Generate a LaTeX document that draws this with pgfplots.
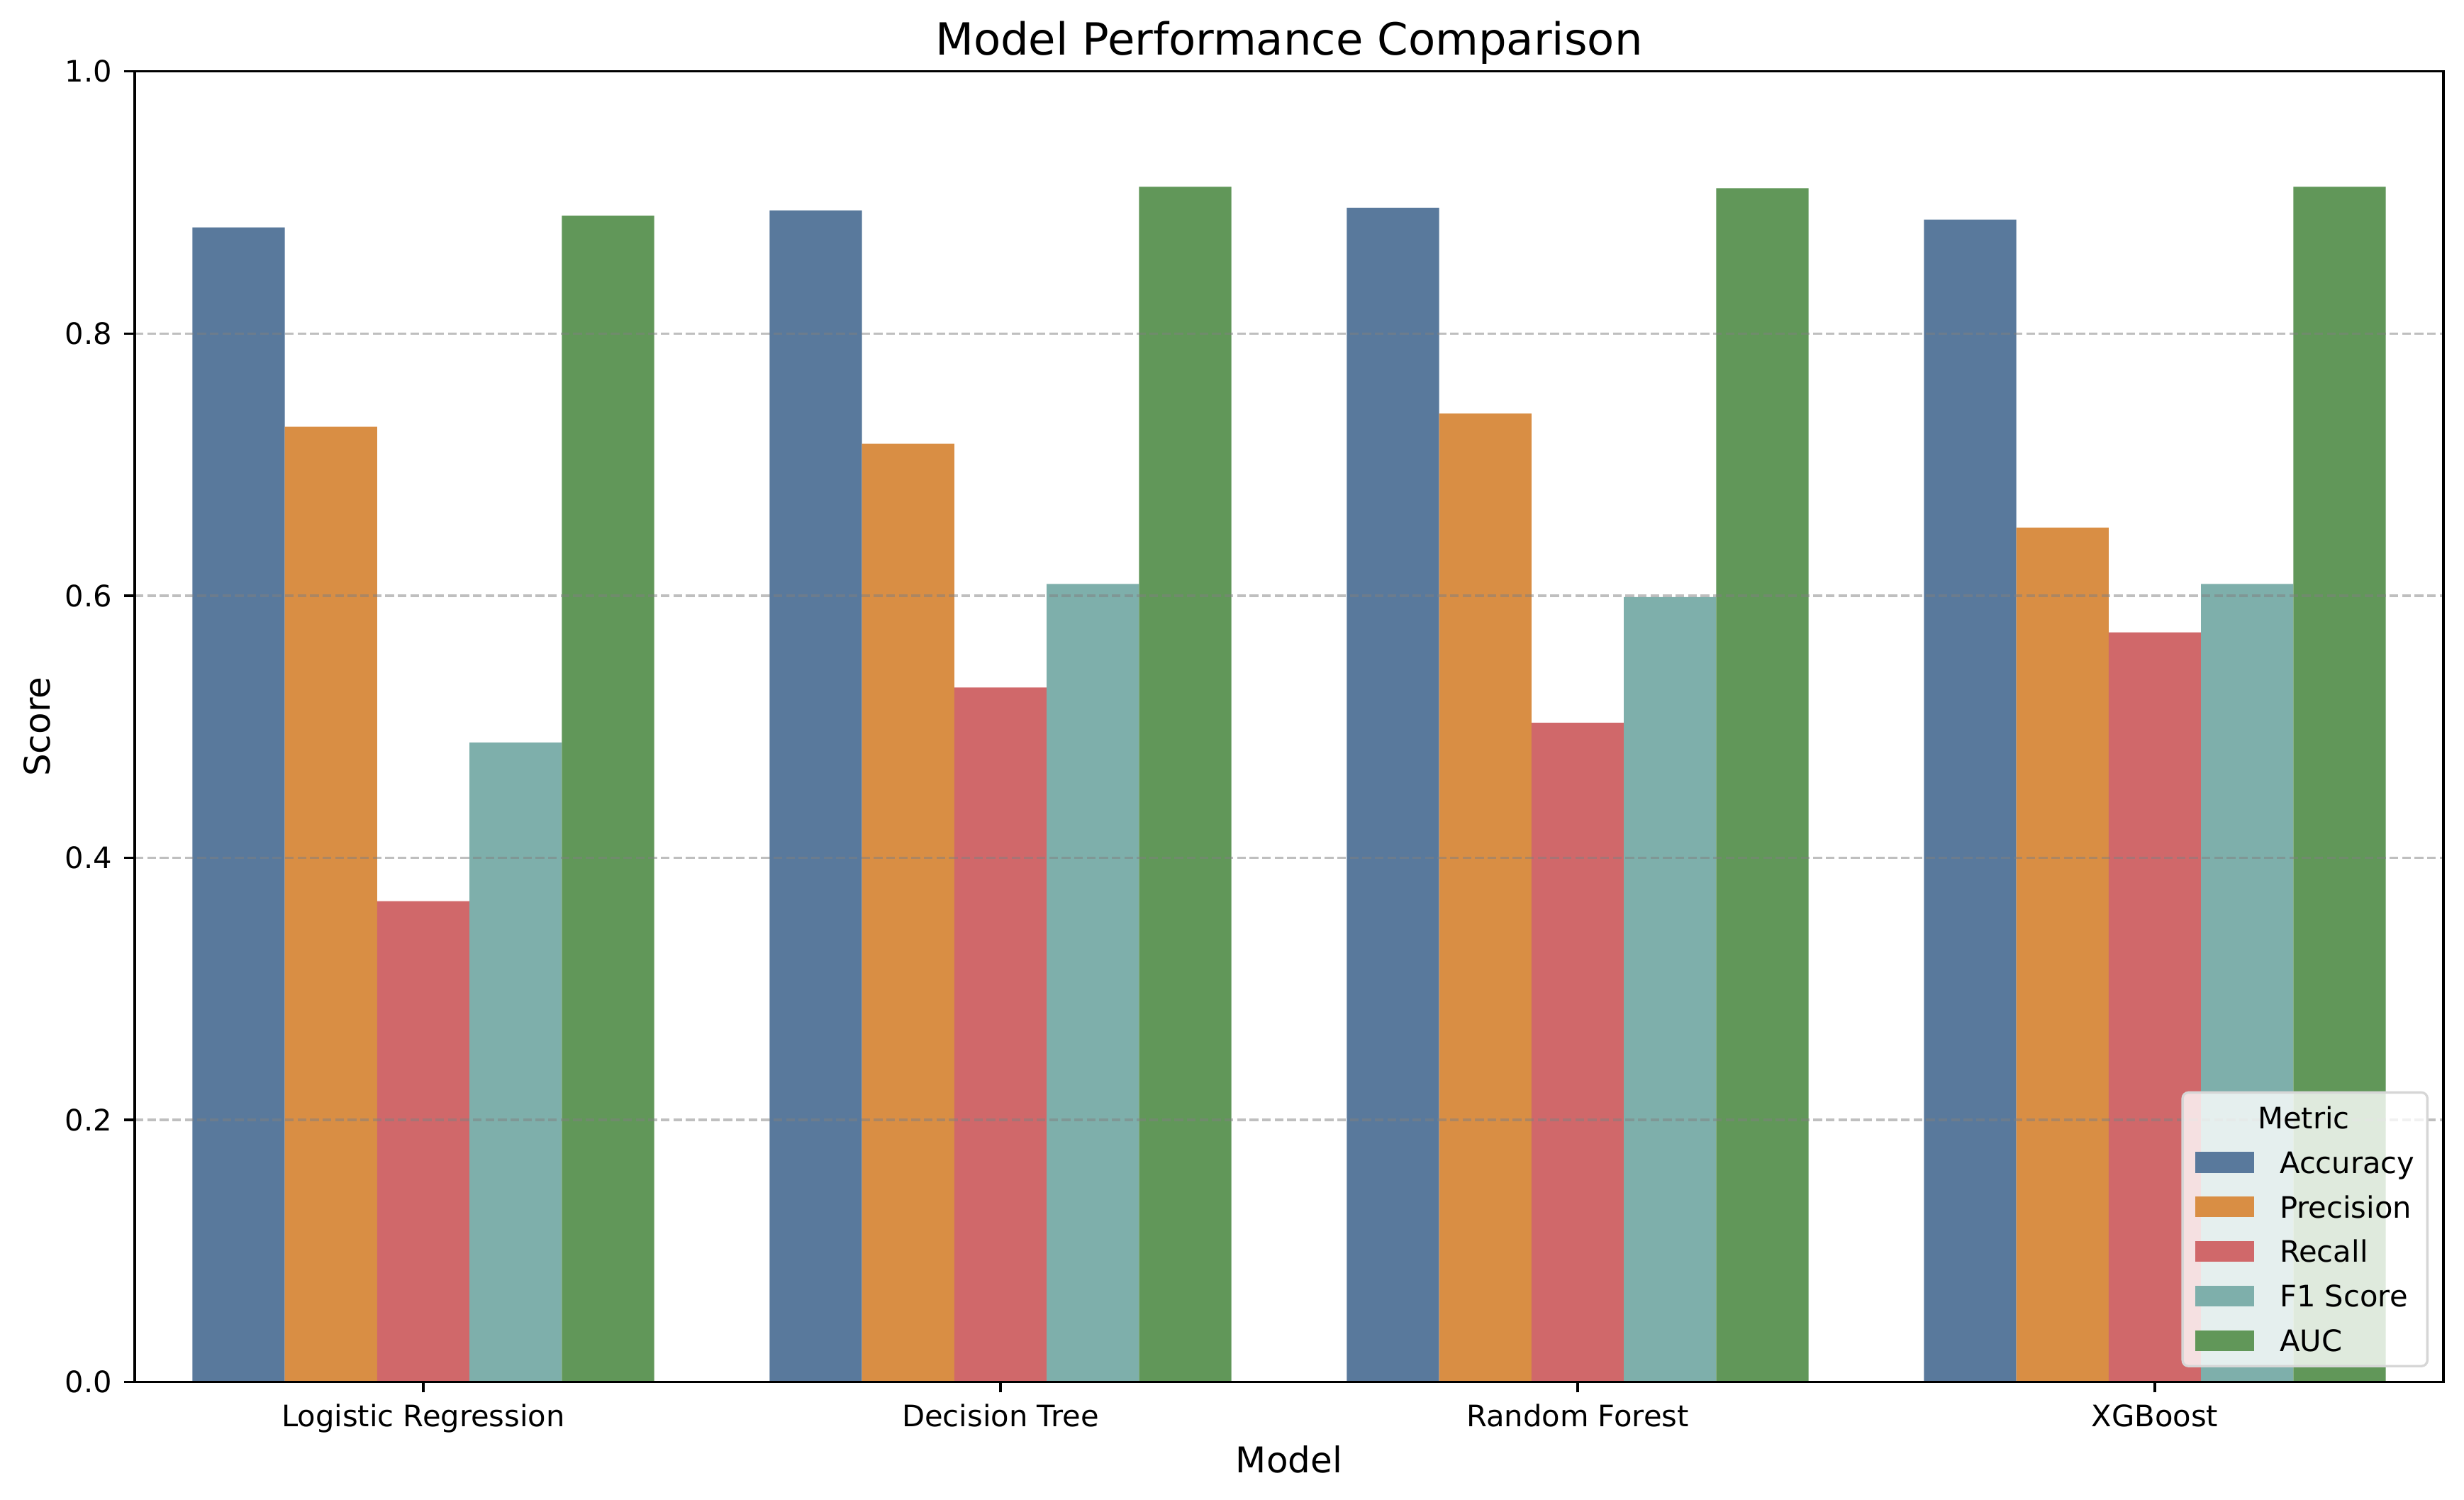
\documentclass[border=0pt]{standalone}
\usepackage{pgfplots}
\pgfplotsset{compat=1.18}
\usepackage{pgfplotstable}
\usepackage{fontspec}
\setmainfont{DejaVu Sans}

\definecolor{cAcc}{RGB}{89,121,156}
\definecolor{cPrec}{RGB}{217,142,68}
\definecolor{cRec}{RGB}{208,104,106}
\definecolor{cF1}{RGB}{126,175,171}
\definecolor{cAuc}{RGB}{97,151,89}
\definecolor{legframe}{RGB}{214,214,214}

\pgfplotstableread{
x acc prec rec f1 auc
0 0.881 0.729 0.367 0.488 0.890
1 0.894 0.716 0.530 0.609 0.912
2 0.896 0.739 0.503 0.599 0.911
3 0.887 0.652 0.572 0.609 0.912
}\scores

\pgfplotsset{
  patchlegend/.style={legend image code/.code={%
    \fill[##1, fill opacity=1, sharp corners, draw=none] (0pt,-3.5pt) rectangle (20pt,3.5pt);}},
}

\begin{document}
\begin{tikzpicture}
\begin{axis}[
  name=ax,
  scale only axis,
  width=781.4pt, height=443.5pt,
  xmin=-0.5, xmax=3.5, ymin=0, ymax=1,
  ybar, bar width=31.26pt,
  xtick={0,1,2,3},
  xticklabels={Logistic Regression, Decision Tree, Random Forest, XGBoost},
  ytick={0,0.2,0.4,0.6,0.8,1.0},
  /pgf/number format/assume math mode=true,
  ticklabel style={font=\fontsize{10}{12}\selectfont, inner sep=0pt},
  xticklabel style={anchor=base, inner sep=0pt, yshift=-11.6pt},
  yticklabel style={anchor=east, inner sep=0pt, xshift=-4pt,
    /pgf/number format/fixed, /pgf/number format/fixed zerofill,
    /pgf/number format/precision=1},
  axis on top,
  axis line style={line width=0.8pt, black},
  tick style={line width=0.8pt, black},
  major tick length=3.5pt,
  tick align=outside,
  tick pos=left,
  ymajorgrids,
  major grid style={draw=gray, draw opacity=0.5, line width=0.8pt, dash pattern=on 2.96pt off 1.28pt},
  title={Model Performance Comparison},
  every axis title/.style={at={(axis description cs:0.5,1)}, anchor=base, yshift=5.5pt, font=\fontsize{15}{18}\selectfont},
  xlabel={Model},
  xlabel style={at={(axis description cs:0.5,0)}, anchor=base, yshift=-30.7pt, font=\fontsize{12}{14}\selectfont},
  ylabel={Score},
  ylabel style={at={(axis description cs:-0.0366,0.5)}, anchor=base, font=\fontsize{12}{14}\selectfont},
  legend style={
    at={(1,0)}, anchor=south east, xshift=-5pt, yshift=5pt,
    draw=legframe, line width=0.8pt, rounded corners=2pt,
    fill=white, fill opacity=0.8, text opacity=1, draw opacity=1,
    inner xsep=4.3pt, inner ysep=4.2pt,
    font=\fontsize{10}{12}\selectfont,
    row sep=6.4pt, column sep=8.6pt,
    nodes={inner sep=0pt, text height=8pt, text depth=0.7pt},
    cells={anchor=west},
  },
]
\addlegendimage{empty legend}
\addlegendentry{\hspace*{-7.45pt}Metric}
\addplot[fill=cAcc, draw=none, bar shift=-62.52pt, patchlegend] table[x=x, y=acc] {\scores};
\addlegendentry{Accuracy}
\addplot[fill=cPrec, draw=none, bar shift=-31.26pt, patchlegend] table[x=x, y=prec] {\scores};
\addlegendentry{Precision}
\addplot[fill=cRec, draw=none, bar shift=0pt, patchlegend] table[x=x, y=rec] {\scores};
\addlegendentry{Recall}
\addplot[fill=cF1, draw=none, bar shift=31.26pt, patchlegend] table[x=x, y=f1] {\scores};
\addlegendentry{F1 Score}
\addplot[fill=cAuc, draw=none, bar shift=62.52pt, patchlegend] table[x=x, y=auc] {\scores};
\addlegendentry{AUC}
\end{axis}
\pgfresetboundingbox
\path[use as bounding box] ([shift={(-45.6pt,-39.8pt)}]ax.south west) rectangle ([shift={(7pt,24.2pt)}]ax.north east);
\end{tikzpicture}
\end{document}
